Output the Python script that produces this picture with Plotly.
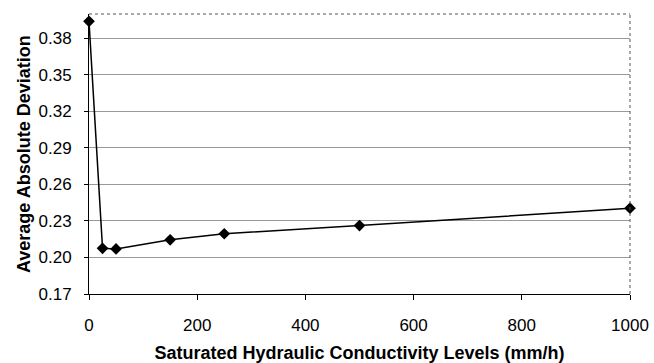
import plotly.graph_objects as go

conductivity = [0, 25, 50, 150, 250, 500, 1000]
deviation = [0.394, 0.2075, 0.207, 0.2145, 0.2195, 0.2262, 0.2405]

x_ticks = [0, 200, 400, 600, 800, 1000]
y_ticks = [0.17, 0.20, 0.23, 0.26, 0.29, 0.32, 0.35, 0.38]

x_title = "Saturated Hydraulic Conductivity Levels (mm/h)"
y_title = "Average Absolute Deviation"

fig = go.Figure()
fig.add_trace(go.Scatter(
    x=conductivity, y=deviation, mode="lines+markers",
    line=dict(color="black", width=1.5),
    marker=dict(symbol="diamond", size=9, color="black"),
    cliponaxis=False, showlegend=False,
))

font_family = "Liberation Sans, Arial, sans-serif"
fig.update_layout(
    width=654, height=363,
    margin=dict(l=89, r=24, t=14, b=69),
    paper_bgcolor="white", plot_bgcolor="white",
    font=dict(family=font_family, color="black"),
    xaxis=dict(
        range=[0, 1000], tickvals=x_ticks, ticktext=[str(v) for v in x_ticks],
        ticks="outside", ticklen=5, tickcolor="black", showgrid=False,
        showline=True, linecolor="black", linewidth=1, zeroline=False,
        tickfont=dict(size=17), ticklabelstandoff=11, automargin=False,
        title=dict(text=f"<b>{x_title}</b>", font=dict(size=18)),
    ),
    yaxis=dict(
        range=[0.17, 0.40], tickvals=y_ticks, ticktext=[f"{v:.2f}" for v in y_ticks],
        ticks="outside", ticklen=4, tickcolor="black",
        showgrid=True, gridcolor="#999999", gridwidth=1,
        showline=True, linecolor="black", linewidth=1, zeroline=False,
        tickfont=dict(size=17), ticklabelstandoff=9, automargin=False,
    ),
    annotations=[
        dict(text=f"<b>{y_title}</b>", xref="paper", yref="paper", x=0, y=0.5,
             xanchor="center", yanchor="middle", xshift=-65, textangle=-90,
             showarrow=False, font=dict(size=18)),
    ],
    shapes=[
        dict(type="line", xref="paper", yref="paper", x0=0, x1=1, y0=1, y1=1,
             line=dict(color="#555", width=1, dash="dot")),
        dict(type="line", xref="paper", yref="paper", x0=1, x1=1, y0=0, y1=1,
             line=dict(color="#555", width=1, dash="dot")),
    ],
)

fig.write_html("out.html")
